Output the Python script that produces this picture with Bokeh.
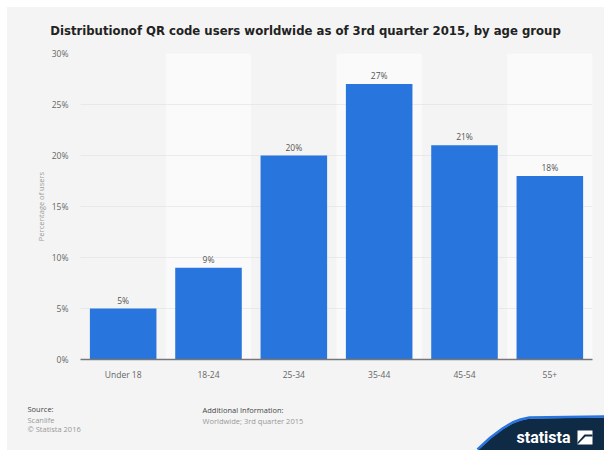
from bokeh.plotting import figure
from bokeh.models import ColumnDataSource, Range1d, FixedTicker, LabelSet, Spacer
from bokeh.layouts import column, row
from bokeh.core.properties import value
from bokeh.embed import file_html
from bokeh.resources import INLINE

categories = ["Under 18", "18-24", "25-34", "35-44", "45-54", "55+"]
values = [5, 9, 20, 27, 21, 18]
value_labels = ["5%", "9%", "20%", "27%", "21%", "18%"]
y_ticks = [0, 5, 10, 15, 20, 25, 30]
y_tick_labels = ["0%", "5%", "10%", "15%", "20%", "25%", "30%"]
title_text = "Distributionof QR code users worldwide as of 3rd quarter 2015, by age group"

W = 597
HH, MH, FH = 40, 349, 54
BG = "#f4f4f4"
BLUE = "#2876dd"
NAVY = "#0f2a45"


def plain(width, height):
    f = figure(width=width, height=height, x_range=Range1d(0, width), y_range=Range1d(0, height),
               output_backend="svg", toolbar_location=None, min_border=0,
               x_axis_type=None, y_axis_type=None)
    f.grid.visible = False
    f.outline_line_color = None
    f.background_fill_color = BG
    f.border_fill_color = BG
    return f


# header
hdr = plain(W, HH)
hdr.text(x=[298], y=[HH - 23], text=[title_text], text_align="center", text_baseline="middle",
         text_font=value("DejaVu Sans"), text_font_style="bold", text_font_size="11.7px",
         text_color="#222222")

# main chart
p = figure(width=W, height=MH, x_range=categories, y_range=Range1d(0, 30),
           output_backend="svg", toolbar_location=None,
           min_border_left=73, min_border_right=12, min_border_top=6, min_border_bottom=37)
p.background_fill_color = BG
p.border_fill_color = BG
p.outline_line_color = None

band_cats = categories[1::2]
p.vbar(x=band_cats, top=[30] * len(band_cats), bottom=0, width=1.0,
       fill_color="#fafafa", line_color=None, level="underlay")

src = ColumnDataSource(dict(x=categories, top=values, lab=value_labels))
p.vbar(x="x", top="top", width=0.78, source=src, fill_color=BLUE, line_color=None)
p.add_layout(LabelSet(x="x", y="top", text="lab", source=src, text_align="center",
                      text_baseline="bottom", y_offset=3, text_font_size="8.5px",
                      text_color="#555555", text_font=value("Open Sans")))

p.xgrid.grid_line_color = None
p.ygrid.grid_line_color = "#dddddd"
p.ygrid.grid_line_dash = "1 1"
p.ygrid.ticker = FixedTicker(ticks=y_ticks)

p.yaxis.ticker = FixedTicker(ticks=y_ticks)
p.yaxis.major_label_overrides = {t: l for t, l in zip(y_ticks, y_tick_labels)}
p.yaxis.axis_line_color = None
p.yaxis.major_tick_line_color = None
p.yaxis.minor_tick_line_color = None
p.yaxis.major_label_text_font = "Open Sans"
p.yaxis.major_label_text_font_size = "8.5px"
p.yaxis.major_label_text_color = "#666666"
p.yaxis.major_label_standoff = 6
p.yaxis.axis_label = "Percentage of users"
p.yaxis.axis_label_text_font = "Open Sans"
p.yaxis.axis_label_text_font_size = "7.5px"
p.yaxis.axis_label_text_font_style = "normal"
p.yaxis.axis_label_text_color = "#999999"
p.yaxis.axis_label_standoff = 3

p.xaxis.axis_line_color = "#777777"
p.xaxis.axis_line_width = 1.5
p.xaxis.major_tick_line_color = None
p.xaxis.minor_tick_line_color = None
p.xaxis.major_label_text_font = "Open Sans"
p.xaxis.major_label_text_font_size = "8.5px"
p.xaxis.major_label_text_color = "#666666"
p.xaxis.major_label_standoff = 3

# footer
ftr = plain(W, FH)
ftr.text(x=[20, 195], y=[42, 41], text=["Source:", "Additional Information:"],
         text_baseline="middle", text_font=value("Open Sans"), text_font_size="7.5px",
         text_color="#444444")
ftr.text(x=[20, 20, 195], y=[31, 22, 30],
         text=["Scanlife", "\u00a9 Statista 2016", "Worldwide; 3rd quarter 2015"],
         text_baseline="middle", text_font=value("Open Sans"), text_font_size="7.5px",
         text_color="#999999")

# logo
lx = [470, 483, 495, 505, 513, 522, 597, 597]
ly = [0, 12, 21, 27, 30, 32, 33, 0]
ftr.patch(x=lx, y=ly, fill_color=NAVY, line_color=None)
ftr.line(x=lx[:7], y=[v + 1 for v in ly[:7]], line_color=BLUE, line_width=2.5)
ftr.text(x=[509], y=[13], text=["statista"], text_baseline="middle",
         text_font=value("Roboto"), text_font_style="bold", text_font_size="16px",
         text_color="white")
ftr.quad(left=[570], right=[585], bottom=[6], top=[20], fill_color="white", line_color=None)
ftr.patch(x=[570, 578, 585, 585, 577, 570], y=[6, 14, 14, 16, 16, 8], fill_color=NAVY,
          line_color=None)

sty = {"background-color": BG}
inner = column(row(hdr, styles=sty), row(p, styles=sty), row(ftr, styles=sty), spacing=0, styles=sty)
layout = column(Spacer(width=604, height=7), row(Spacer(width=7, height=HH + MH + FH), inner, spacing=0),
                spacing=0)

open("out.html", "w").write(file_html(layout, INLINE))
